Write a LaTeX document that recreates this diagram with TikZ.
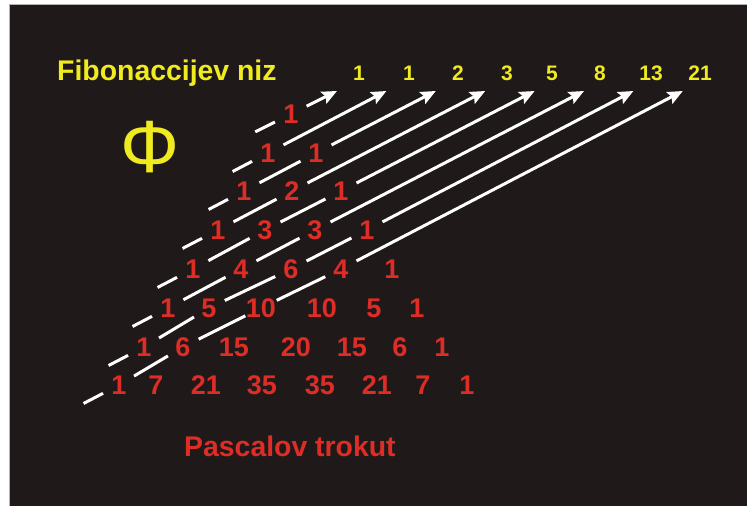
\documentclass[tikz,border=0pt]{standalone}
\usepackage{fontspec}
\setmainfont{Liberation Sans}
\usetikzlibrary{arrows.meta,calc}
\definecolor{bg}{RGB}{31,26,25}
\definecolor{pred}{RGB}{222,44,38}
\definecolor{fyel}{RGB}{240,234,32}
\begin{document}
\begin{tikzpicture}[x=1pt,y=-1pt,
  pnum/.style={text=pred,font=\fontsize{27}{27}\selectfont\bfseries,inner sep=0pt},
  fnum/.style={text=fyel,font=\fontsize{21}{21}\selectfont\bfseries,inner sep=0pt,anchor=base},
  title/.style={font=\fontsize{28.4}{28.4}\selectfont\bfseries,inner sep=0pt,anchor=base west},
  seg/.style={draw=white,line width=3pt,shorten <=17.5pt,shorten >=17.5pt},
  lead/.style={draw=white,line width=3pt},
  arr/.style={draw=white,line width=3pt,shorten <=17.5pt,-{Stealth[length=15pt,width=13pt,inset=2.5pt]}}]
\useasboundingbox (0,0) rectangle (747,506);
\fill[white] (0,0) rectangle (747,506);
\fill[bg] (10,5) rectangle (747,506);
\draw[gray!60,line width=1pt] (9.5,506) -- (9.5,4.5) -- (747,4.5);

% titles
\node[title,text=fyel] (fib) at (57,80) {Fibonaccijev niz};
\node[title,text=pred] (pas) at (184,456) {Pascalov trokut};
\node[text=fyel,font=\fontsize{74}{74}\selectfont,anchor=base,inner sep=0pt] (phi) at (150,172) {Φ};

% Fibonacci numbers
\node[fnum] (f0) at (359,80) {1};
\node[fnum] (f1) at (409,80) {1};
\node[fnum] (f2) at (458,80) {2};
\node[fnum] (f3) at (507,80) {3};
\node[fnum] (f4) at (552,80) {5};
\node[fnum] (f5) at (600,80) {8};
\node[fnum] (f6) at (651,80) {13};
\node[fnum] (f7) at (700,80) {21};

% arrow tips
\coordinate (t0) at (337,91);
\coordinate (t1) at (386.4,91);
\coordinate (t2) at (435.8,91);
\coordinate (t3) at (485.2,91);
\coordinate (t4) at (534.6,91);
\coordinate (t5) at (584,91);
\coordinate (t6) at (633.4,91);
\coordinate (t7) at (682.8,91);

% Pascal triangle
\node[pnum] (n00) at (291,114) {1};
\node[pnum] (n10) at (268,153) {1};
\node[pnum] (n11) at (316,153) {1};
\node[pnum] (n20) at (244,191) {1};
\node[pnum] (n21) at (292,191) {2};
\node[pnum] (n22) at (341,191) {1};
\node[pnum] (n30) at (218,230) {1};
\node[pnum] (n31) at (265,230) {3};
\node[pnum] (n32) at (315,230) {3};
\node[pnum] (n33) at (367,230) {1};
\node[pnum] (n40) at (193,269) {1};
\node[pnum] (n41) at (241,269) {4};
\node[pnum] (n42) at (291,269) {6};
\node[pnum] (n43) at (341,269) {4};
\node[pnum] (n44) at (392,269) {1};
\node[pnum] (n50) at (168,308) {1};
\node[pnum] (n51) at (209,308) {5};
\node[pnum] (n52) at (261,308) {10};
\node[pnum] (n53) at (322,308) {10};
\node[pnum] (n54) at (374,308) {5};
\node[pnum] (n55) at (417,308) {1};
\node[pnum] (n60) at (144,347) {1};
\node[pnum] (n61) at (183,347) {6};
\node[pnum] (n62) at (234,347) {15};
\node[pnum] (n63) at (296,347) {20};
\node[pnum] (n64) at (352,347) {15};
\node[pnum] (n65) at (400,347) {6};
\node[pnum] (n66) at (442,347) {1};
\node[pnum] (n70) at (119,385) {1};
\node[pnum] (n71) at (156,385) {7};
\node[pnum] (n72) at (206,385) {21};
\node[pnum] (n73) at (262,385) {35};
\node[pnum] (n74) at (320,385) {35};
\node[pnum] (n75) at (377,385) {21};
\node[pnum] (n76) at (423,385) {7};
\node[pnum] (n77) at (467,385) {1};

% diagonal 0
\draw[lead] ($(n00.center)!-40pt!(t0)$) -- ($(n00.center)!-18pt!(t0)$);
\draw[arr] (n00.center) -- (t0);
% diagonal 1
\draw[lead] ($(n10.center)!-40pt!(t1)$) -- ($(n10.center)!-18pt!(t1)$);
\draw[arr] (n10.center) -- (t1);
% diagonal 2
\draw[lead] ($(n20.center)!-40pt!(t2)$) -- ($(n20.center)!-18pt!(t2)$);
\draw[seg] (n20.center) -- (n11.center);
\draw[arr] (n11.center) -- (t2);
% diagonal 3
\draw[lead] ($(n30.center)!-40pt!(t3)$) -- ($(n30.center)!-18pt!(t3)$);
\draw[seg] (n30.center) -- (n21.center);
\draw[arr] (n21.center) -- (t3);
% diagonal 4
\draw[lead] ($(n40.center)!-40pt!(t4)$) -- ($(n40.center)!-18pt!(t4)$);
\draw[seg] (n40.center) -- (n31.center);
\draw[seg] (n31.center) -- (n22.center);
\draw[arr] (n22.center) -- (t4);
% diagonal 5
\draw[lead] ($(n50.center)!-40pt!(t5)$) -- ($(n50.center)!-18pt!(t5)$);
\draw[seg] (n50.center) -- (n41.center);
\draw[seg] (n41.center) -- (n32.center);
\draw[arr] (n32.center) -- (t5);
% diagonal 6
\draw[lead] ($(n60.center)!-40pt!(t6)$) -- ($(n60.center)!-18pt!(t6)$);
\draw[seg] (n60.center) -- (n51.center);
\draw[seg] (n51.center) -- (n42.center);
\draw[seg] (n42.center) -- (n33.center);
\draw[arr] (n33.center) -- (t6);
% diagonal 7
\draw[lead] ($(n70.center)!-40pt!(t7)$) -- ($(n70.center)!-18pt!(t7)$);
\draw[seg] (n70.center) -- (n61.center);
\draw[seg] (n61.center) -- (n52.center);
\draw[seg] (n52.center) -- (n43.center);
\draw[arr] (n43.center) -- (t7);
\end{tikzpicture}
\end{document}
